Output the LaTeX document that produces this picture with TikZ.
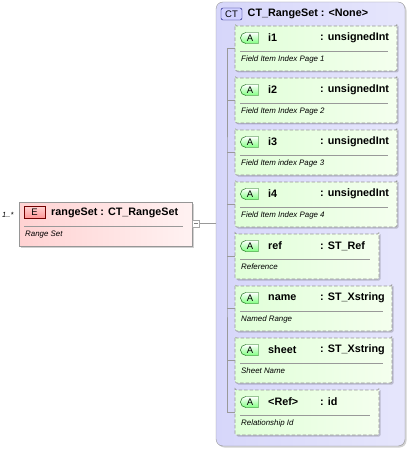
\documentclass[tikz,border=0pt]{standalone}
\usepackage{fontspec}
\setmainfont{Liberation Sans}
\usetikzlibrary{shapes.misc,shadows}

\definecolor{elemL}{RGB}{255,210,210}
\definecolor{elemR}{RGB}{255,242,242}
\definecolor{ctL}{RGB}{214,214,250}
\definecolor{ctR}{RGB}{230,230,252}
\definecolor{attrL}{RGB}{224,255,216}
\definecolor{attrR}{RGB}{244,255,238}
\definecolor{frame}{RGB}{150,150,150}

\tikzset{
  every node/.style={inner sep=0pt},
  boxshadow/.style={drop shadow={shadow xshift=1.5pt,shadow yshift=-1.5pt,fill=black,opacity=0.18}},
  elembox/.style={draw=frame, left color=elemL, right color=elemR, minimum width=173pt, minimum height=44pt, boxshadow},
  ctbox/.style={draw=frame, rounded corners=7pt, left color=ctL, right color=ctR, minimum width=189pt, minimum height=444pt, boxshadow},
  attrbox/.style={shape=chamfered rectangle, chamfered rectangle corners={north west,south west},
    chamfered rectangle xsep=5pt, chamfered rectangle ysep=5pt, rounded corners=1.5pt,
    draw=frame, line width=0.7pt, dash pattern=on 3.5pt off 2pt, left color=attrL, right color=attrR,
    minimum height=45pt, boxshadow},
  elemtag/.style={draw=red!45!black, top color=red!18, bottom color=red!42, minimum width=21pt, minimum height=12pt, font=\fontsize{9.5}{10}\selectfont},
  cttag/.style={draw=blue!45!black, rounded corners=2pt, fill=blue!18, minimum width=21pt, minimum height=12pt, font=\fontsize{9.5}{10}\selectfont},
  attrtag/.style={shape=rounded rectangle, rounded rectangle right arc=none, draw=green!35!black,
    top color=white, bottom color=green!50!white, minimum width=18pt, minimum height=11pt, font=\fontsize{9.5}{10}\selectfont},
  titletext/.style={anchor=west, font=\fontsize{10.8}{12}\selectfont\bfseries},
  doctext/.style={anchor=west, font=\fontsize{7.9}{9}\selectfont\itshape},
  sepline/.style={draw=gray!80, line width=0.6pt},
  treeline/.style={draw=gray!80, line width=0.6pt},
}

\begin{document}
\begin{tikzpicture}[x=1pt,y=-1pt]
  \useasboundingbox (0,0) rectangle (409,449);

  % element
  \node[doctext, font=\fontsize{7.5}{8}\selectfont\itshape] (card) at (2,215) {1..*};
  \node[elembox] (elem) at (105.5,224) {};
  \node[elemtag] (etag) at (34.5,212.5) {E};
  \node[titletext] (etitle) at (51,213) {rangeSet : CT\_RangeSet};
  \draw[sepline] (24,226) -- (183,226);
  \node[doctext] (edoc) at (25,235) {Range Set};
  \node[draw=gray!70, fill=white, minimum size=7pt,
    path picture={\draw[gray] ([xshift=1.5pt]path picture bounding box.west) -- ([xshift=-1.5pt]path picture bounding box.east);}]
    (minus) at (196,223.5) {};

  % complex type
  \node[ctbox] (ct) at (310.5,224) {};
  \node[cttag] (cttag) at (231.5,14) {CT};
  \node[titletext] (cttitle) at (247.5,14) {CT\_RangeSet : <None>};
  \draw[treeline] (minus.east) -- (minus.east -| ct.west);

  % attributes
  \node[attrbox, minimum width=162pt] (i1) at (316,48.5) {};
  \node[attrtag] (i1tag) at (250,38) {A};
  \node[titletext] (i1name) at (268,38) {i1};
  \node[titletext] (i1type) at (320,38) {: unsignedInt};
  \draw[sepline] (240,51) -- (388,51);
  \node[doctext] (i1doc) at (241,59) {Field Item Index Page 1};

  \node[attrbox, minimum width=162pt] (i2) at (316,100.5) {};
  \node[attrtag] (i2tag) at (250,90) {A};
  \node[titletext] (i2name) at (268,90) {i2};
  \node[titletext] (i2type) at (320,90) {: unsignedInt};
  \draw[sepline] (240,103) -- (388,103);
  \node[doctext] (i2doc) at (241,111) {Field Item Index Page 2};

  \node[attrbox, minimum width=162pt] (i3) at (316,152.5) {};
  \node[attrtag] (i3tag) at (250,142) {A};
  \node[titletext] (i3name) at (268,142) {i3};
  \node[titletext] (i3type) at (320,142) {: unsignedInt};
  \draw[sepline] (240,155) -- (388,155);
  \node[doctext] (i3doc) at (241,163) {Field Item index Page 3};

  \node[attrbox, minimum width=162pt] (i4) at (316,204.5) {};
  \node[attrtag] (i4tag) at (250,194) {A};
  \node[titletext] (i4name) at (268,194) {i4};
  \node[titletext] (i4type) at (320,194) {: unsignedInt};
  \draw[sepline] (240,207) -- (388,207);
  \node[doctext] (i4doc) at (241,215) {Field Item Index Page 4};

  \node[attrbox, minimum width=144pt] (ref) at (307,256.5) {};
  \node[attrtag] (reftag) at (250,246) {A};
  \node[titletext] (refname) at (268,246) {ref};
  \node[titletext] (reftype) at (320,246) {: ST\_Ref};
  \draw[sepline] (240,259) -- (370,259);
  \node[doctext] (refdoc) at (241,267) {Reference};

  \node[attrbox, minimum width=157pt] (name) at (313.5,308.5) {};
  \node[attrtag] (nametag) at (250,298) {A};
  \node[titletext] (namename) at (268,298) {name};
  \node[titletext] (nametype) at (320,298) {: ST\_Xstring};
  \draw[sepline] (240,311) -- (383,311);
  \node[doctext] (namedoc) at (241,319) {Named Range};

  \node[attrbox, minimum width=157pt] (sheet) at (313.5,360.5) {};
  \node[attrtag] (sheettag) at (250,350) {A};
  \node[titletext] (sheetname) at (268,350) {sheet};
  \node[titletext] (sheettype) at (320,350) {: ST\_Xstring};
  \draw[sepline] (240,363) -- (383,363);
  \node[doctext] (sheetdoc) at (241,371) {Sheet Name};

  \node[attrbox, minimum width=144pt] (rid) at (307,412.5) {};
  \node[attrtag] (ridtag) at (250,402) {A};
  \node[titletext] (ridname) at (268,402) {<Ref>};
  \node[titletext] (ridtype) at (320,402) {: id};
  \draw[sepline] (240,415) -- (370,415);
  \node[doctext] (riddoc) at (241,423) {Relationship Id};

  % tree
  \coordinate (trunk) at (227,224);
  \draw[treeline] (i1.west) -| (trunk) |- (rid.west);
  \draw[treeline] (i2.west) -- (i2.west -| trunk) (i3.west) -- (i3.west -| trunk) (i4.west) -- (i4.west -| trunk);
  \draw[treeline] (ref.west) -- (ref.west -| trunk) (name.west) -- (name.west -| trunk) (sheet.west) -- (sheet.west -| trunk);
\end{tikzpicture}
\end{document}
